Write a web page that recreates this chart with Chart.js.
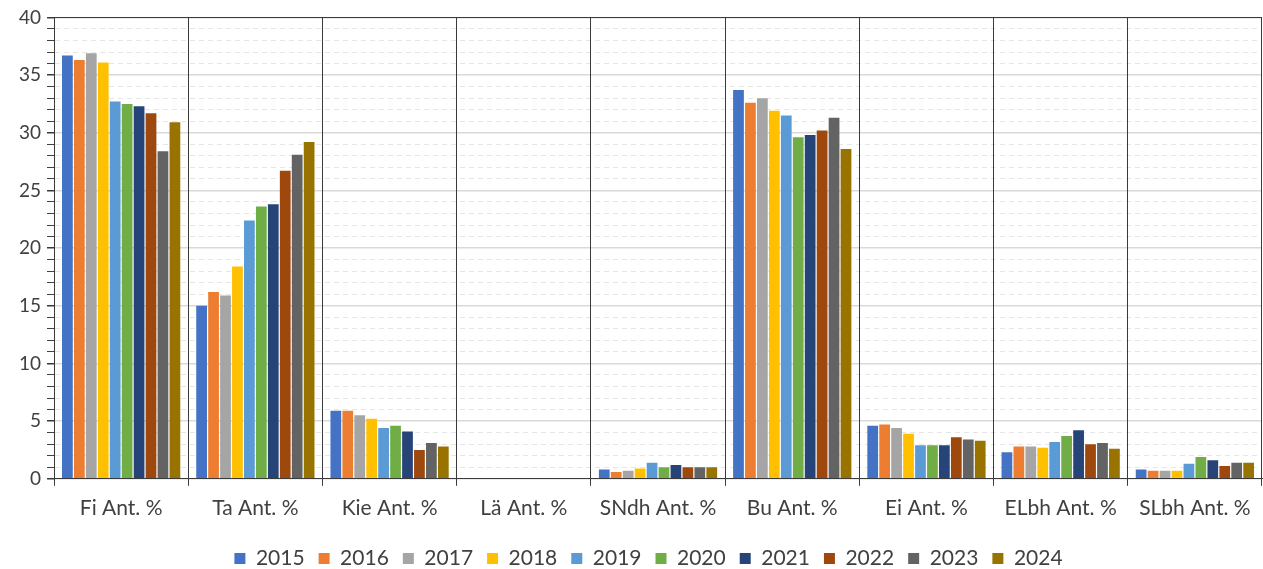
<!DOCTYPE html>
<html>
<head>
<meta charset="utf-8">
<script src="https://cdn.jsdelivr.net/npm/chart.js@4.4.1/dist/chart.umd.min.js"></script>
<style>
  html, body { margin: 0; padding: 0; background: #fff; }
  #wrap { width: 1263px; height: 569px; }
</style>
</head>
<body>
<div id="wrap"><canvas id="chart" width="1263" height="569"></canvas></div>
<script>
// categories along the x axis
const categories = ['Fi Ant. %', 'Ta Ant. %', 'Kie Ant. %', 'Lä Ant. %', 'SNdh Ant. %', 'Bu Ant. %', 'Ei Ant. %', 'ELbh Ant. %', 'SLbh Ant. %'];
const years = ['2015', '2016', '2017', '2018', '2019', '2020', '2021', '2022', '2023', '2024'];
const yearColors = ['#4472C4', '#ED7D31', '#A5A5A5', '#FFC000', '#5B9BD5', '#70AD47', '#264478', '#9E480E', '#636363', '#997300'];

// one array per year, values in category order
const v2015 = [36.7, 15.0, 5.9, 0, 0.8, 33.7, 4.6, 2.3, 0.8];
const v2016 = [36.3, 16.2, 5.9, 0, 0.6, 32.6, 4.7, 2.8, 0.7];
const v2017 = [36.9, 15.9, 5.5, 0, 0.7, 33.0, 4.4, 2.8, 0.7];
const v2018 = [36.1, 18.4, 5.2, 0, 0.9, 31.9, 3.9, 2.7, 0.7];
const v2019 = [32.7, 22.4, 4.4, 0, 1.4, 31.5, 2.9, 3.2, 1.3];
const v2020 = [32.5, 23.6, 4.6, 0, 1.0, 29.6, 2.9, 3.7, 1.9];
const v2021 = [32.3, 23.8, 4.1, 0, 1.2, 29.8, 2.9, 4.2, 1.6];
const v2022 = [31.7, 26.7, 2.5, 0, 1.0, 30.2, 3.6, 3.0, 1.1];
const v2023 = [28.4, 28.1, 3.1, 0, 1.0, 31.3, 3.4, 3.1, 1.4];
const v2024 = [30.9, 29.2, 2.8, 0, 1.0, 28.6, 3.3, 2.6, 1.4];
const seriesValues = [v2015, v2016, v2017, v2018, v2019, v2020, v2021, v2022, v2023, v2024];

// y axis: 0..40, labels every 5, dashed minor lines every 1
const yMin = 0;
const yMax = 40;
const yLabelStep = 5;

const FONT = 'Lato, "Open Sans", sans-serif';
const TEXT = '#404040';
const FRAME = '#3a3a3a';

// top edge of the plot box
const frameTop = {
    id: 'frameTop',
    afterDraw(chart) {
        const { ctx, chartArea } = chart;
        ctx.save();
        ctx.strokeStyle = FRAME;
        ctx.lineWidth = 1;
        ctx.setLineDash([]);
        ctx.beginPath();
        ctx.moveTo(chartArea.left, Math.round(chartArea.top) + 0.5);
        ctx.lineTo(chartArea.right, Math.round(chartArea.top) + 0.5);
        ctx.stroke();
        ctx.restore();
    }
};

// legend sits a little right of the canvas centre, under the plot
const legendShift = {
    id: 'legendShift',
    afterLayout(chart) {
        if (chart.legend) {
            chart.legend.left += 11;
            chart.legend.right += 11;
        }
    }
};

const isMajor = v => v % yLabelStep === 0;

new Chart(document.getElementById('chart').getContext('2d'), {
    type: 'bar',
    data: {
        labels: categories,
        datasets: years.map((y, i) => ({
            label: y,
            data: seriesValues[i],
            backgroundColor: yearColors[i],
            borderWidth: 0,
            categoryPercentage: 0.89,
            barPercentage: 0.9
        }))
    },
    options: {
        responsive: false,
        animation: false,
        layout: { padding: { top: 10, right: 1, left: 13, bottom: -10 } },
        plugins: {
            legend: {
                position: 'bottom',
                labels: {
                    boxWidth: 11,
                    boxHeight: 11,
                    padding: 14,
                    color: TEXT,
                    font: { family: FONT, size: 21 }
                }
            },
            tooltip: { enabled: false }
        },
        scales: {
            x: {
                afterFit: scale => { scale.height += 3; },
                grid: {
                    offset: true,
                    color: FRAME,
                    lineWidth: 1,
                    drawTicks: true,
                    tickLength: 7,
                    tickColor: FRAME
                },
                border: { color: FRAME, width: 1 },
                ticks: {
                    color: TEXT,
                    padding: 10,
                    font: { family: FONT, size: 21 }
                }
            },
            y: {
                min: yMin,
                max: yMax,
                grid: {
                    z: -2,
                    color: ctx => (ctx.tick && isMajor(ctx.tick.value)) ? '#d9d9d9' : '#e6e6e6',
                    lineWidth: ctx => (ctx.tick && isMajor(ctx.tick.value)) ? 1.5 : 1,
                    drawTicks: true,
                    tickLength: 7,
                    tickColor: FRAME,
                    tickBorderDash: [1, 0]
                },
                border: {
                    color: FRAME,
                    width: 1,
                    dash: ctx => (ctx.tick && !isMajor(ctx.tick.value)) ? [5, 4] : [1, 0]
                },
                ticks: {
                    stepSize: 1,
                    autoSkip: false,
                    color: TEXT,
                    padding: 6,
                    font: { family: FONT, size: 19 },
                    callback: v => isMajor(v) ? v : ''
                }
            }
        }
    },
    plugins: [frameTop, legendShift]
});
</script>
</body>
</html>
